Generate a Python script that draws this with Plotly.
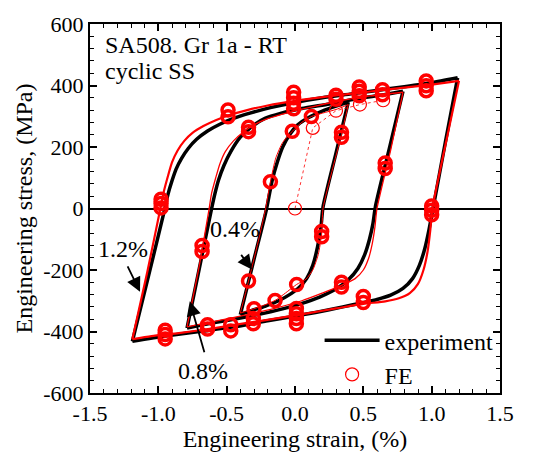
import plotly.graph_objects as go

# ---------------- data (strain in %, stress in MPa) ----------------
# Experiment, 1.2 % loop
exp12_up_x = [-1.19, -1.07, -0.955, -0.93, -0.90, -0.87, -0.83, -0.78, -0.72, -0.64, -0.55, -0.45, -0.33, -0.18, 0.0, 0.2, 0.4, 0.6, 0.8, 1.0, 1.19]
exp12_up_y = [-432, -216, -5, 45, 90, 128, 163, 196, 225, 252, 274, 293, 310, 328, 345, 360, 372, 384, 396, 409, 425]
exp12_dn_x = [1.19, 1.10, 1.01, 0.98, 0.95, 0.91, 0.86, 0.79, 0.70, 0.60, 0.50, 0.35, 0.15, 0.0, -0.20, -0.45, -0.70, -0.95, -1.19]
exp12_dn_y = [425, 215, 0, -70, -130, -185, -228, -260, -282, -296, -306, -320, -338, -350, -365, -385, -400, -415, -432]
# Experiment, 0.8 % loop
exp08_up_x = [-0.79, -0.70, -0.61, -0.585, -0.56, -0.52, -0.47, -0.40, -0.32, -0.22, -0.10, 0.05, 0.25, 0.45, 0.65, 0.79]
exp08_up_y = [-389, -195, 0, 50, 92, 140, 185, 232, 265, 293, 310, 325, 340, 357, 370, 381]
exp08_dn_x = [0.79, 0.69, 0.59, 0.57, 0.545, 0.51, 0.46, 0.39, 0.30, 0.18, 0.04, -0.15, -0.40, -0.60, -0.79]
exp08_dn_y = [381, 195, 10, -50, -100, -150, -195, -232, -262, -288, -310, -333, -356, -372, -389]
# Experiment, 0.4 % loop
exp04_up_x = [-0.40, -0.30, -0.21, -0.19, -0.165, -0.13, -0.09, -0.04, 0.02, 0.10, 0.20, 0.30, 0.39]
exp04_up_y = [-345, -165, -5, 40, 95, 150, 200, 240, 272, 296, 317, 333, 346]
exp04_dn_x = [0.39, 0.30, 0.205, 0.19, 0.165, 0.13, 0.085, 0.03, -0.04, -0.12, -0.22, -0.32, -0.40]
exp04_dn_y = [346, 180, 5, -60, -125, -185, -228, -257, -280, -300, -318, -332, -345]

# FE, 1.2 % loop
fe12_up_x = [-1.19, -1.08, -0.985, -0.96, -0.93, -0.90, -0.86, -0.81, -0.75, -0.67, -0.58, -0.48, -0.35, -0.20, 0.0, 0.2, 0.4, 0.6, 0.8, 1.0, 1.20]
fe12_up_y = [-425, -205, 0, 55, 105, 150, 188, 220, 246, 268, 287, 304, 320, 335, 350, 362, 373, 383, 393, 403, 415]
fe12_dn_x = [1.20, 1.10, 1.005, 0.99, 0.97, 0.94, 0.90, 0.84, 0.76, 0.66, 0.50, 0.30, 0.10, -0.10, -0.35, -0.60, -0.85, -1.05, -1.19]
fe12_dn_y = [415, 205, 0, -70, -140, -200, -245, -275, -292, -302, -310, -325, -340, -355, -372, -390, -405, -415, -425]
# FE, 0.8 % loop
fe08_up_x = [-0.79, -0.70, -0.63, -0.61, -0.58, -0.55, -0.51, -0.45, -0.38, -0.30, -0.20, -0.05, 0.15, 0.35, 0.55, 0.79]
fe08_up_y = [-385, -185, -5, 50, 100, 145, 185, 220, 248, 272, 292, 312, 333, 352, 366, 378]
fe08_dn_x = [0.79, 0.70, 0.60, 0.585, 0.565, 0.54, 0.50, 0.44, 0.34, 0.20, 0.05, -0.15, -0.40, -0.60, -0.79]
fe08_dn_y = [378, 190, 0, -60, -115, -160, -200, -228, -250, -275, -300, -325, -350, -368, -385]
# FE, 0.4 % loop
fe04_up_x = [-0.40, -0.34, -0.26, -0.215, -0.18, -0.14, -0.09, -0.02, 0.05, 0.12, 0.20, 0.30, 0.39]
fe04_up_y = [-340, -236, -90, 0, 87, 165, 215, 251, 280, 299, 310, 322, 338]
fe04_dn_x = [0.39, 0.34, 0.27, 0.205, 0.195, 0.17, 0.13, 0.08, 0.012, -0.07, -0.146, -0.23, -0.30, -0.40]
fe04_dn_y = [338, 240, 120, 0, -83, -150, -200, -230, -247, -275, -299, -315, -326, -340]
# FE, initial loading
fe_init_x = [0.0, 0.13, 0.30, 0.475, 0.645]
fe_init_y = [0, 262, 318, 338, 352]

# FE output markers (clusters of stacked cycles)
fe_mk_x = [-0.98, -0.98, -0.98, -0.49, -0.49, -0.01, -0.01, -0.01, -0.01, 0.47, 0.47, 0.47,
           0.64, 0.64, 0.96, 0.96, 0.96,
           1.0, 1.0, 1.0, 0.5, 0.5, 0.01, 0.01, 0.01, 0.01, -0.47, -0.47, -0.95, -0.95, -0.95,
           -0.68, -0.68, -0.64, -0.64, -0.34, -0.34, 0.30, 0.30, 0.66, 0.66, 0.34, 0.34, -0.305, -0.305,
           0.34, 0.34, 0.195, 0.195, -0.34, -0.18, -0.02, 0.12, 0.012, -0.146, -0.30]
fe_mk_y = [2, 16, 30, 298, 320, 324, 342, 360, 378, 367, 381, 395,
           370, 386, 383, 399, 415,
           -20, -6, 8, -286, -306, -325, -342, -358, -375, -378, -398, -396, -410, -424,
           -120, -140, -378, -392, 250, 264, 355, 368, 130, 148, -240, -255, -358, -375,
           232, 248, -75, -92, -236, 87, 251, 299, -247, -299, -326]
fe_thin_x = [0.0, 0.13, 0.30, 0.475, 0.645]
fe_thin_y = [0, 262, 318, 338, 352]

x_ticks = [-1.5, -1.0, -0.5, 0.0, 0.5, 1.0, 1.5]
x_ticktext = ["-1.5", "-1.0", "-0.5", "0.0", "0.5", "1.0", "1.5"]
y_ticks = [-600, -400, -200, 0, 200, 400, 600]
y_ticktext = ["-600", "-400", "-200", "0", "200", "400", "600"]

FONT = "Times New Roman, Liberation Serif, Tinos, DejaVu Serif, serif"
RED = "#ff0000"

fig = go.Figure()

# experiment (black thick)
for i, (bx, by) in enumerate([(exp12_up_x, exp12_up_y), (exp12_dn_x, exp12_dn_y),
                               (exp08_up_x, exp08_up_y), (exp08_dn_x, exp08_dn_y),
                               (exp04_up_x, exp04_up_y), (exp04_dn_x, exp04_dn_y)]):
    fig.add_trace(go.Scatter(x=bx, y=by, mode="lines",
                             line=dict(color="black", width=3.5, shape="spline", smoothing=0.6),
                             name="experiment", showlegend=(i == 0), legendrank=1))

# FE lines (red thin)
for bx, by, w in [(fe12_up_x, fe12_up_y, 2.2), (fe12_dn_x, fe12_dn_y, 2.2),
                  (fe08_up_x, fe08_up_y, 1.3), (fe08_dn_x, fe08_dn_y, 1.3),
                  (fe04_up_x, fe04_up_y, 1.0), (fe04_dn_x, fe04_dn_y, 1.0)]:
    fig.add_trace(go.Scatter(x=bx, y=by, mode="lines",
                             line=dict(color=RED, width=w, shape="spline", smoothing=0.6),
                             showlegend=False, hoverinfo="skip"))
fig.add_trace(go.Scatter(x=fe_init_x, y=fe_init_y, mode="lines",
                         line=dict(color=RED, width=0.8, dash="dot"),
                         showlegend=False, hoverinfo="skip"))

# FE markers
fig.add_trace(go.Scatter(x=fe_mk_x, y=fe_mk_y, mode="markers",
                         marker=dict(symbol="circle-open", size=12, color=RED, line=dict(width=3.5, color=RED)),
                         showlegend=False))
fig.add_trace(go.Scatter(x=fe_thin_x, y=fe_thin_y, mode="markers", name="FE", legendrank=2,
                         marker=dict(symbol="circle-open", size=13, color=RED, line=dict(width=1.2, color=RED))))

axis_common = dict(showline=True, linecolor="black", linewidth=2, mirror="ticks",
                   ticks="inside", ticklen=7, tickwidth=1.5, tickcolor="black",
                   showgrid=False, tickfont=dict(family=FONT, size=22, color="black"))

fig.update_xaxes(range=[-1.5, 1.5], tickvals=x_ticks, ticktext=x_ticktext, zeroline=False,
                 minor=dict(dtick=0.1, ticks="inside", ticklen=4, tickwidth=1.2, tickcolor="black"),
                 title=dict(text="Engineering strain, (%)", font=dict(family=FONT, size=24, color="black"), standoff=2),
                 **axis_common)
fig.update_yaxes(range=[-600, 600], tickvals=y_ticks, ticktext=y_ticktext,
                 zeroline=True, zerolinecolor="black", zerolinewidth=1.5,
                 minor=dict(dtick=40, ticks="inside", ticklen=4, tickwidth=1.2, tickcolor="black"),
                 title=dict(text="Engineering stress, (MPa)", font=dict(family=FONT, size=24, color="black"), standoff=4),
                 **axis_common)

ann_font = dict(family=FONT, size=24, color="black")
annotations = [
    dict(text="SA508. Gr 1a - RT", xref="paper", yref="paper", x=0.032, y=0.943, xanchor="left", yanchor="middle",
         showarrow=False, font=ann_font),
    dict(text="cyclic SS", xref="paper", yref="paper", x=0.032, y=0.873, xanchor="left", yanchor="middle",
         showarrow=False, font=ann_font),
    dict(text="1.2%", x=-1.26, y=-132, xref="x", yref="y", showarrow=False, font=ann_font),
    dict(text="0.4%", x=-0.44, y=-66, xref="x", yref="y", showarrow=False, font=ann_font),
    dict(text="0.8%", x=-0.67, y=-527, xref="x", yref="y", showarrow=False, font=ann_font),
]
for hx, hy, tx, ty in [(-1.134, -271, -1.23, -183), (-0.315, -198, -0.402, -146), (-0.77, -302, -0.66, -472)]:
    annotations.append(dict(text="", x=hx, y=hy, ax=tx, ay=ty, xref="x", yref="y", axref="x", ayref="y",
                            showarrow=True, arrowhead=2, arrowsize=1.6, arrowwidth=1.8, arrowcolor="black"))

fig.update_layout(
    width=545, height=457,
    margin=dict(l=90, r=45, t=15, b=61),
    plot_bgcolor="white", paper_bgcolor="white",
    font=dict(family=FONT, color="black"),
    annotations=annotations,
    legend=dict(x=0.56, y=0.203, xanchor="left", yanchor="top", bgcolor="rgba(0,0,0,0)",
                font=dict(family=FONT, size=24, color="black"), itemwidth=55, tracegroupgap=0),
)

fig.write_html("out.html")
